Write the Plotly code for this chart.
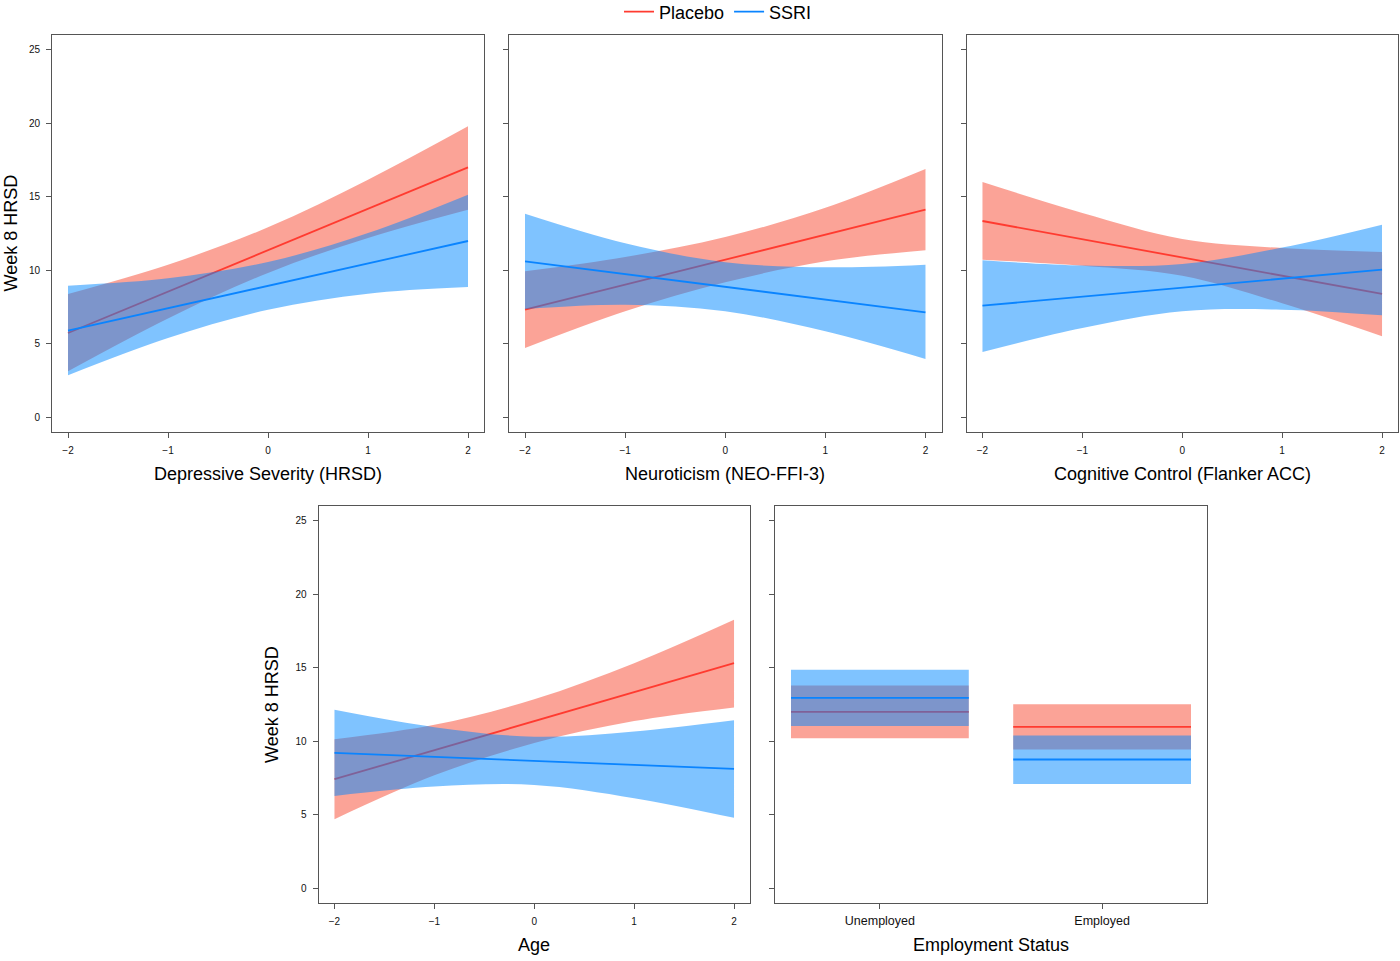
import plotly.graph_objects as go

# values (x is the standardised predictor, -2..2)
x_vals = [-2, -1, 0, 1, 2]

# Depressive Severity (HRSD)
dep_pla_fit = [5.73, 8.55, 11.37, 14.18, 17.0]
dep_pla_lo = [3.13, 6.72, 9.82, 12.2, 14.12]
dep_pla_hi = [8.39, 10.38, 12.92, 16.16, 19.79]
dep_ssri_fit = [5.89, 7.42, 8.94, 10.47, 11.99]
dep_ssri_lo = [2.86, 5.39, 7.32, 8.41, 8.86]
dep_ssri_hi = [8.95, 9.45, 10.56, 12.53, 15.14]

# Neuroticism (NEO-FFI-3)
neu_pla_fit = [7.32, 9.02, 10.72, 12.42, 14.12]
neu_pla_lo = [4.71, 7.21, 9.18, 10.61, 11.36]
neu_pla_hi = [9.93, 10.9, 12.26, 14.25, 16.89]
neu_ssri_fit = [10.61, 9.75, 8.88, 8.01, 7.14]
neu_ssri_lo = [7.37, 7.66, 7.21, 5.85, 3.97]
neu_ssri_hi = [13.85, 11.84, 10.55, 10.2, 10.38]

# Cognitive Control (Flanker ACC)
cog_pla_fit = [13.35, 12.11, 10.87, 9.63, 8.39]
cog_pla_lo = [10.72, 10.31, 9.63, 7.75, 5.51]
cog_pla_hi = [16.0, 13.9, 12.13, 11.51, 11.24]
cog_ssri_fit = [7.59, 8.2, 8.82, 9.43, 10.04]
cog_ssri_lo = [4.44, 6.07, 7.21, 7.32, 6.94]
cog_ssri_hi = [10.68, 10.33, 10.43, 11.54, 13.1]

# Age
age_pla_fit = [7.42, 9.40, 11.37, 13.34, 15.31]
age_pla_lo = [4.70, 7.68, 9.88, 11.37, 12.30]
age_pla_hi = [10.14, 11.12, 12.86, 15.31, 18.26]
age_ssri_fit = [9.21, 8.94, 8.67, 8.40, 8.12]
age_ssri_lo = [6.28, 6.92, 7.03, 6.13, 4.79]
age_ssri_hi = [12.14, 10.96, 10.31, 10.67, 11.43]

# Employment Status
emp_cats = ['Unemployed', 'Employed']
emp_pla_fit = [12.0, 10.98]
emp_pla_lo = [10.21, 9.44]
emp_pla_hi = [13.79, 12.52]
emp_ssri_fit = [12.95, 8.76]
emp_ssri_lo = [11.03, 7.09]
emp_ssri_hi = [14.86, 10.39]

x_ticks = [-2, -1, 0, 1, 2]
x_ticktext = ['\u22122', '\u22121', '0', '1', '2']
y_ticks = [0, 5, 10, 15, 20, 25]

W, H = 1400, 961
RED = '#FF3B30'
BLUE = '#0A84FF'
RED_FILL = 'rgba(248,72,48,0.5)'
BLUE_FILL = 'rgba(0,136,255,0.5)'
FONT = 'Liberation Sans, Arial, Helvetica, sans-serif'

fig = go.Figure()


def ax_names(n):
    s = '' if n == 1 else str(n)
    return 'x' + s, 'y' + s


def add_series(n, x, fit, lo, hi, line_col, fill_col, name, legend):
    xa, ya = ax_names(n)
    # lower edge (invisible), then upper edge filled down to it
    fig.add_trace(go.Scatter(x=x, y=lo, mode='lines', xaxis=xa, yaxis=ya,
                             line=dict(width=0, shape='spline', color=fill_col),
                             showlegend=False, hoverinfo='skip'))
    fig.add_trace(go.Scatter(x=x, y=hi, mode='lines', xaxis=xa, yaxis=ya,
                             line=dict(width=0, shape='spline', color=fill_col),
                             fill='tonexty', fillcolor=fill_col,
                             showlegend=False, hoverinfo='skip'))
    fig.add_trace(go.Scatter(x=x, y=fit, mode='lines', xaxis=xa, yaxis=ya,
                             line=dict(width=1.8, color=line_col),
                             name=name, showlegend=legend, legendgroup=name))


def add_panel(n, fits, legend=False):
    pla_fit, pla_lo, pla_hi, ssri_fit, ssri_lo, ssri_hi = fits
    add_series(n, x_vals, pla_fit, pla_lo, pla_hi, RED, RED_FILL, 'Placebo', legend)
    add_series(n, x_vals, ssri_fit, ssri_lo, ssri_hi, BLUE, BLUE_FILL, 'SSRI', legend)


add_panel(1, (dep_pla_fit, dep_pla_lo, dep_pla_hi, dep_ssri_fit, dep_ssri_lo, dep_ssri_hi), legend=True)
add_panel(2, (neu_pla_fit, neu_pla_lo, neu_pla_hi, neu_ssri_fit, neu_ssri_lo, neu_ssri_hi))
add_panel(3, (cog_pla_fit, cog_pla_lo, cog_pla_hi, cog_ssri_fit, cog_ssri_lo, cog_ssri_hi))
add_panel(4, (age_pla_fit, age_pla_lo, age_pla_hi, age_ssri_fit, age_ssri_lo, age_ssri_hi))

# employment panel: flat boxes centred on each category
half_w = 0.4
emp_pos = list(range(1, len(emp_cats) + 1))


def add_boxes(fit, lo, hi, line_col, fill_col, name):
    for i, c in enumerate(emp_pos):
        fig.add_trace(go.Scatter(x=[c - half_w, c + half_w, c + half_w, c - half_w, c - half_w],
                                 y=[lo[i], lo[i], hi[i], hi[i], lo[i]],
                                 mode='lines', fill='toself', fillcolor=fill_col,
                                 line=dict(width=0, color=fill_col),
                                 xaxis='x5', yaxis='y5', showlegend=False, hoverinfo='skip'))
    xs, ys = [], []
    for i, c in enumerate(emp_pos):
        xs += [c - half_w, c + half_w, None]
        ys += [fit[i], fit[i], None]
    fig.add_trace(go.Scatter(x=xs, y=ys, mode='lines', xaxis='x5', yaxis='y5',
                             line=dict(width=1.8, color=line_col), name=name, showlegend=False))


add_boxes(emp_pla_fit, emp_pla_lo, emp_pla_hi, RED, RED_FILL, 'Placebo')
add_boxes(emp_ssri_fit, emp_ssri_lo, emp_ssri_hi, BLUE, BLUE_FILL, 'SSRI')


def x_dom(l, r):
    return [l / W, r / W]


def y_dom(t, b):
    return [1 - b / H, 1 - t / H]


axis_style = dict(showline=True, mirror=True, linecolor='#555', linewidth=1,
                  ticks='outside', ticklen=5, tickwidth=1, tickcolor='#555',
                  showgrid=False, zeroline=False, fixedrange=True,
                  ticklabelstandoff=4,
                  tickfont=dict(family=FONT, size=10, color='#111'))

panels = {
    1: (x_dom(52, 484), y_dom(35, 432), True),
    2: (x_dom(509, 941.5), y_dom(35, 432), False),
    3: (x_dom(966.5, 1398), y_dom(35, 432), False),
    4: (x_dom(318.5, 750), y_dom(506, 903), True),
    5: (x_dom(775, 1207), y_dom(506, 903), False),
}

layout_axes = {}
for n, (xd, yd, show_y) in panels.items():
    s = '' if n == 1 else str(n)
    xa = dict(axis_style, domain=xd, anchor='y' + s)
    if n == 5:
        xa.update(range=[0.528, 2.472], tickvals=emp_pos, ticktext=emp_cats,
                  ticklabelstandoff=1,
                  tickfont=dict(family=FONT, size=12.5, color='#111'))
    else:
        xa.update(range=[-2.16, 2.16], tickvals=x_ticks, ticktext=x_ticktext)
    ya = dict(axis_style, domain=yd, anchor='x' + s, range=[-1, 26],
              tickvals=y_ticks, showticklabels=show_y)
    layout_axes['xaxis' + s] = xa
    layout_axes['yaxis' + s] = ya

x_titles = ['Depressive Severity (HRSD)', 'Neuroticism (NEO-FFI-3)',
            'Cognitive Control (Flanker ACC)', 'Age', 'Employment Status']

annotations = []
for n, title in enumerate(x_titles, start=1):
    s = '' if n == 1 else str(n)
    annotations.append(dict(text=title, xref='x' + s + ' domain', yref='y' + s + ' domain',
                            x=0.5, y=0, yanchor='middle', yshift=-42, showarrow=False,
                            font=dict(family=FONT, size=18, color='#000')))
for n, shift in [(1, -42), (4, -47)]:
    s = '' if n == 1 else str(n)
    annotations.append(dict(text='Week 8 HRSD', xref='x' + s + ' domain', yref='y' + s + ' domain',
                            x=0, y=0.5, xanchor='center', xshift=shift, textangle=-90,
                            showarrow=False, font=dict(family=FONT, size=18, color='#000')))

fig.update_layout(
    width=W, height=H,
    margin=dict(l=0, r=0, t=0, b=0, autoexpand=False),
    paper_bgcolor='white', plot_bgcolor='white',
    font=dict(family=FONT, color='#000'),
    legend=dict(orientation='h', x=718 / W, xanchor='center', y=1 - 12 / H, yanchor='middle',
                font=dict(family=FONT, size=18), bgcolor='rgba(0,0,0,0)'),
    annotations=annotations,
    **layout_axes
)

# page body has a default 8px margin; drop it so the figure sits at the window corner
fig.write_html("out.html", config={'displayModeBar': False},
               post_script="document.body.style.margin='0px';")
